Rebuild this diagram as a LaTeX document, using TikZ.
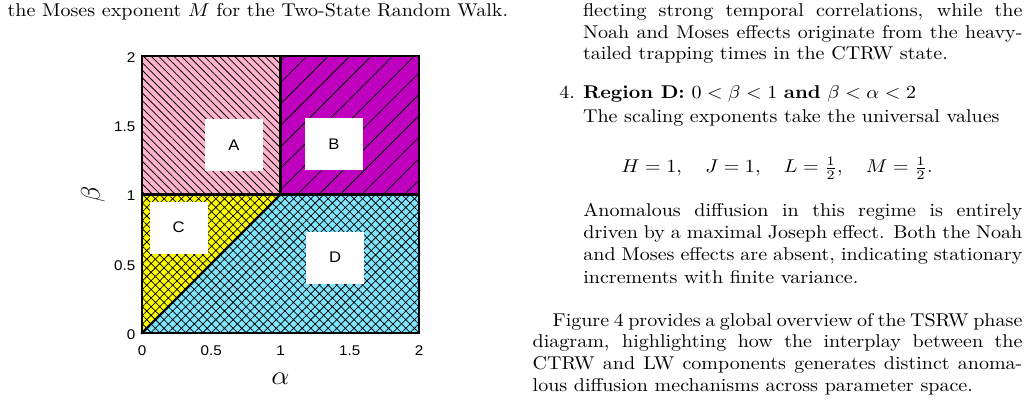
\documentclass[tikz,border=0pt]{standalone}
\usepackage{fontspec}
\newfontfamily\plotfont{Liberation Sans}
\usetikzlibrary{patterns.meta}

\definecolor{regpink}{RGB}{255,179,204}
\definecolor{regmagenta}{RGB}{191,0,191}
\definecolor{regyellow}{RGB}{255,255,0}
\definecolor{regcyan}{RGB}{128,230,255}

\newdimen\pxu
\pxu=0.5405pt

\begin{document}
\begin{tikzpicture}[
	x=\pxu, y=-\pxu,
	widetext/.style  = {xscale=1.082},
	bodyline/.style  = {widetext, anchor=base west, inner sep=0pt, font=\fontsize{10}{12}\selectfont},
	ticklabel/.style = {widetext, inner sep=0pt, font=\plotfont\fontsize{7.6}{9}\selectfont},
	axislabel/.style = {inner sep=0pt, font=\fontsize{14}{16}\selectfont},
	regionbox/.style = {widetext, rectangle, fill=white, inner sep=0pt, minimum width={53.6*\pxu},
		minimum height={52*\pxu}, font=\plotfont\fontsize{8.3}{10}\selectfont},
	boundary/.style  = {line width=1.3pt, line cap=rect},
	hatchA/.style    = {pattern={Lines[angle=-45, distance=2.9pt, line width=0.42pt]}},
	hatchB/.style    = {pattern={Lines[angle=45, distance=8.2pt, line width=0.42pt]}},
	hatchX/.style    = {pattern={Hatch[angle=45, distance=3.3pt, line width=0.4pt]}}
	]
	
	\useasboundingbox (0,0) rectangle (1029,406);
	
	% ===================== Phase diagram =====================
	\coordinate (O) at (142,333);
	\begin{scope}[shift={(O)}, x={138.5*\pxu}, y={138.5*\pxu}]
		% regions
		\fill[regpink]    (0,1) rectangle (1,2);
		\fill[hatchA]     (0,1) rectangle (1,2);
		\fill[regmagenta] (1,1) rectangle (2,2);
		\fill[hatchB]     (1,1) rectangle (2,2);
		\fill[regyellow]  (0,0) -- (1,1) -- (0,1) -- cycle;
		\fill[hatchX]     (0,0) -- (1,1) -- (0,1) -- cycle;
		\fill[regcyan]    (0,0) -- (2,0) -- (2,1) -- (1,1) -- cycle;
		\fill[hatchX]     (0,0) -- (2,0) -- (2,1) -- (1,1) -- cycle;
		
		% borders
		\draw[boundary] (0,0) rectangle (2,2);
		\draw[boundary] (0,1) -- (2,1);
		\draw[boundary] (1,1) -- (1,2);
		\draw[boundary] (0,0) -- (1,1);
		
		% tick labels
		\foreach \v/\t in {0/0, 0.5/0.5, 1/1, 1.5/1.5, 2/2} {
			\node[ticklabel] (xt\t) at (\v,-0.128) {\t};
			\node[ticklabel, anchor=east] (yt\t) at (-0.046,\v-0.011) {\t};
		}
	\end{scope}
	
	\node[regionbox] (boxA) at (234,145)     {A};
	\node[regionbox] (boxB) at (334,144.5)   {B};
	\node[regionbox] (boxC) at (178.5,227.5) {C};
	\node[regionbox] (boxD) at (335,257.5)   {D};
	
	\node[axislabel, widetext] (alab) at (280.5,379) {$\alpha$};
	\node[axislabel, rotate=90] (blab) at (93,194) {$\beta$};
	
	% ===================== Caption (left column) =====================
	\node[bodyline] (cap) at (7.3,16.7) {the Moses exponent $M$ for the Two-State Random Walk.};
	
	% ===================== Text (right column) =====================
	\node[bodyline] (r1) at (582.7,16.7) {\makebox[406\pxu][s]{flecting strong temporal correlations, while the}};
	\node[bodyline] (r2) at (582.7,38.3) {\makebox[406\pxu][s]{Noah and Moses effects originate from the heavy-}};
	\node[bodyline] (r3) at (582.7,60)   {tailed trapping times in the CTRW state.};
	
	\node[bodyline] (item) at (559,99)   {4.};
	\node[bodyline] (head) at (582.7,99) {\textbf{Region D:} $0<\beta<1$ \textbf{and} $\beta<\alpha<2$};
	\node[bodyline] (r5) at (582.7,122.7) {The scaling exponents take the universal values};
	\node[bodyline, anchor=base] (eq) at (777,173) {$H=1,\quad J=1,\quad L=\frac{1}{2},\quad M=\frac{1}{2}.$};
	
	\node[bodyline] (r7)  at (583,216)   {\makebox[405.7\pxu][s]{Anomalous diffusion in this regime is entirely}};
	\node[bodyline] (r8)  at (583,238.3) {\makebox[405.7\pxu][s]{driven by a maximal Joseph effect. Both the Noah}};
	\node[bodyline] (r9)  at (583,260.7) {\makebox[405.7\pxu][s]{and Moses effects are absent, indicating stationary}};
	\node[bodyline] (r10) at (583,283.3) {increments with finite variance.};
	
	\node[bodyline] (p1) at (552.3,326)   {\makebox[434.1\pxu][s]{Figure 4 provides a global overview of the TSRW phase}};
	\node[bodyline] (p2) at (532.3,347.3) {\makebox[452.6\pxu][s]{diagram, highlighting how the interplay between the}};
	\node[bodyline] (p3) at (532.3,369.3) {\makebox[452.6\pxu][s]{CTRW and LW components generates distinct anoma-}};
	\node[bodyline] (p4) at (532.3,391.7) {lous diffusion mechanisms across parameter space.};
	
\end{tikzpicture}
\end{document}
